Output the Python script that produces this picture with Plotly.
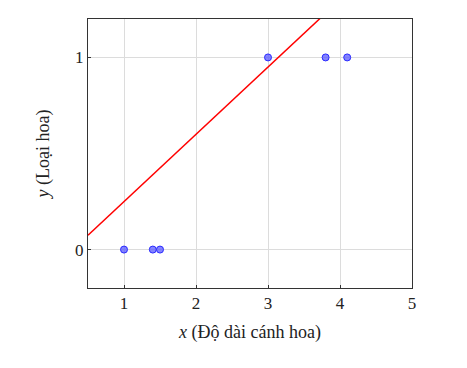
import plotly.graph_objects as go

# Data
petal_length = [1.0, 1.4, 1.5, 3.0, 3.8, 4.1]
flower_class = [0, 0, 0, 1, 1, 1]
line_x = [0.5, 5.0]
line_y = [0.075, 1.65]
x_ticks = [1, 2, 3, 4, 5]
y_ticks = [0, 1]

font_family = "Liberation Serif, DejaVu Serif, serif"

fig = go.Figure()
fig.add_trace(go.Scatter(
    x=line_x, y=line_y, mode="lines",
    line=dict(color="red", width=1.5), showlegend=False, hoverinfo="skip"))
fig.add_trace(go.Scatter(
    x=petal_length, y=flower_class, mode="markers",
    marker=dict(size=7, color="rgba(90,90,255,0.75)", line=dict(color="#2a2aff", width=1)),
    showlegend=False))

axis_common = dict(
    showgrid=True, gridcolor="#dcdcdc", gridwidth=1,
    showline=True, linecolor="#333333", linewidth=1, mirror=True,
    ticks="inside", ticklen=3, tickcolor="#333333",
    zeroline=False,
    tickfont=dict(family=font_family, size=17, color="#222222"),
)

fig.update_layout(
    width=467, height=368,
    margin=dict(l=80, r=63, t=11, b=88),
    paper_bgcolor="white", plot_bgcolor="white",
    font=dict(family=font_family, color="#222222"),
    xaxis=dict(range=[0.5, 5], tickvals=x_ticks,
               title=dict(text="<i>x</i> (Độ dài cánh hoa)", font=dict(size=18, family=font_family), standoff=12),
               **axis_common),
    yaxis=dict(range=[-0.2, 1.2], tickvals=y_ticks,
               title=dict(text="<i>y</i> (Loại hoa)", font=dict(size=18, family=font_family), standoff=20),
               **axis_common),
)

fig.write_html("out.html")
